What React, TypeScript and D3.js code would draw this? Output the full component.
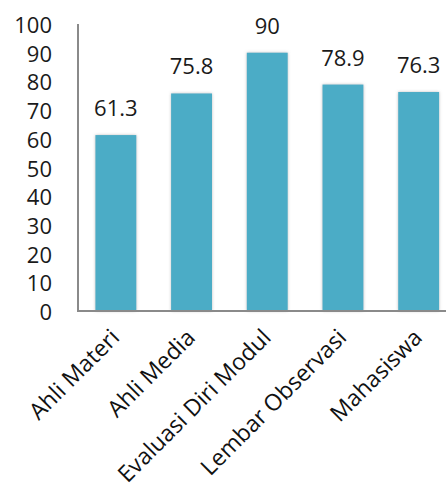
import React from "react";
import * as d3 from "d3";

const categories = ["Ahli Materi", "Ahli Media", "Evaluasi Diri Modul", "Lembar Observasi", "Mahasiswa"];
const values = [61.3, 75.8, 90, 78.9, 76.3];
const valueLabels = ["61.3", "75.8", "90", "78.9", "76.3"];
const yTicks = [0, 10, 20, 30, 40, 50, 60, 70, 80, 90, 100];

const W = 446;
const H = 483;
const left = 78;
const bottom = 311;
const top = 24;
const step = 75.7;

export default function App() {
  const x = d3
    .scaleBand<string>()
    .domain(categories)
    .range([left, left + step * categories.length])
    .paddingInner(0.46)
    .paddingOuter(0.23);
  const y = d3.scaleLinear().domain([0, 100]).range([bottom, top]);
  const font = "'Open Sans', sans-serif";
  const textColor = "#1a1a1a";

  return (
    <svg width={W} height={H} style={{ position: "absolute", left: 0, top: 0, background: "#fff" }}>
      <defs>
        <filter id="shadow" x="-20%" y="-20%" width="140%" height="140%">
          <feDropShadow dx="0" dy="0" stdDeviation="1.6" floodColor="#888" floodOpacity="0.55" />
        </filter>
      </defs>
      {categories.map((c, i) => (
        <rect
          key={c}
          x={x(c)}
          y={y(values[i])}
          width={x.bandwidth()}
          height={bottom - y(values[i])}
          fill="#4BACC6"
          filter="url(#shadow)"
        />
      ))}
      <line x1={left} x2={left} y1={top} y2={bottom} stroke="#8a8a8a" strokeWidth={2} />
      <line x1={left - 1} x2={W} y1={bottom} y2={bottom} stroke="#8a8a8a" strokeWidth={2} />
      {yTicks.map((t) => (
        <text
          key={t}
          x={52}
          y={y(t)}
          textAnchor="end"
          dominantBaseline="central"
          fontFamily={font}
          fontSize={22}
          fontWeight={500}
          fill={textColor}
        >
          {t}
        </text>
      ))}
      {categories.map((c, i) => (
        <text
          key={c + "v"}
          x={(x(c) as number) + x.bandwidth() / 2}
          y={y(values[i]) - 19}
          textAnchor="middle"
          fontFamily={font}
          fontSize={22}
          fontWeight={500}
          fill={textColor}
        >
          {valueLabels[i]}
        </text>
      ))}
      {categories.map((c) => {
        const cx = (x(c) as number) + x.bandwidth() / 2 + 5;
        const cy = bottom + 28;
        return (
          <text
            key={c + "l"}
            x={cx}
            y={cy}
            transform={`rotate(-45, ${cx}, ${cy})`}
            textAnchor="end"
            fontFamily={font}
            fontSize={23}
            fontWeight={500}
            fill="#111"
          >
            {c}
          </text>
        );
      })}
    </svg>
  );
}
